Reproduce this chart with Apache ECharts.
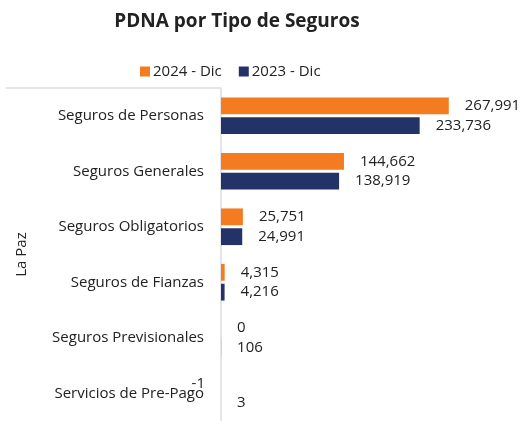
<!DOCTYPE html>
<html>
<head>
<meta charset="utf-8">
<script src="https://cdn.jsdelivr.net/npm/echarts@6/dist/echarts.min.js"></script>
<style>
html,body{margin:0;padding:0;background:#fff;}
#chart{width:523px;height:421px;}
</style>
</head>
<body>
<div id="chart"></div>
<script>
var categories = ["Seguros de Personas","Seguros Generales","Seguros Obligatorios","Seguros de Fianzas","Seguros Previsionales","Servicios de Pre-Pago"];
var series2024 = [267991, 144662, 25751, 4315, 0, -1];
var series2023 = [233736, 138919, 24991, 4216, 106, 3];
var seriesNames = ["2024 - Dic", "2023 - Dic"];
var groupName = "La Paz";
var titleText = "PDNA por Tipo de Seguros";

var FONT = "'Open Sans', 'Noto Sans', sans-serif";
function fmt(v){ return Number(v).toLocaleString('en-US'); }
function toData(arr){
  return arr.map(function(v){
    var d = {value: v};
    if (v < 0) d.label = {position: 'left'};
    return d;
  });
}
var chart = echarts.init(document.getElementById('chart'), null, {renderer:'canvas'});
chart.setOption({
  animation: false,
  backgroundColor: '#fff',
  title: {
    text: titleText, left: 232, top: 7, textAlign: 'center',
    textStyle: {fontFamily: FONT, fontSize: 19, fontWeight: 'bold', color: '#222'}
  },
  legend: {
    data: seriesNames, left: 135, top: 59, itemWidth: 10, itemHeight: 10, itemGap: 17,
    icon: 'rect', textStyle: {fontFamily: FONT, fontSize: 15, color: '#222', padding:[0,0,0,-2]}
  },
  grid: {left: 221, top: 88, width: 255, bottom: -3, containLabel: false},
  xAxis: {
    type: 'value', min: 0, max: 300000, show: false
  },
  yAxis: {
    type: 'category', data: categories, inverse: true,
    name: groupName, nameLocation: 'middle', nameRotate: 90, nameGap: 192,
    nameTextStyle: {fontFamily: FONT, fontSize: 15, color: '#222'},
    axisLine: {show: true, lineStyle: {color: '#dcdce2', width: 1.5}},
    axisTick: {show: false},
    axisLabel: {fontFamily: FONT, fontSize: 15, color: '#222', margin: 17}
  },
  series: [
    {
      name: seriesNames[0], type: 'bar', data: toData(series2024),
      barGap: '18%', barCategoryGap: '34%',
      itemStyle: {color: '#f47b20'},
      label: {show: true, position: 'right', distance: 16, fontFamily: FONT, fontSize: 15, color: '#222',
        formatter: function(p){ return fmt(p.value); }}
    },
    {
      name: seriesNames[1], type: 'bar', data: toData(series2023),
      itemStyle: {color: '#233368'},
      label: {show: true, position: 'right', distance: 16, fontFamily: FONT, fontSize: 15, color: '#222',
        formatter: function(p){ return fmt(p.value); }}
    }
  ],
  graphic: [
    {type: 'line', shape: {x1: 6, y1: 88, x2: 221, y2: 88}, style: {stroke: '#dcdce2', lineWidth: 1.5}}
  ]
});
</script>
</body>
</html>
